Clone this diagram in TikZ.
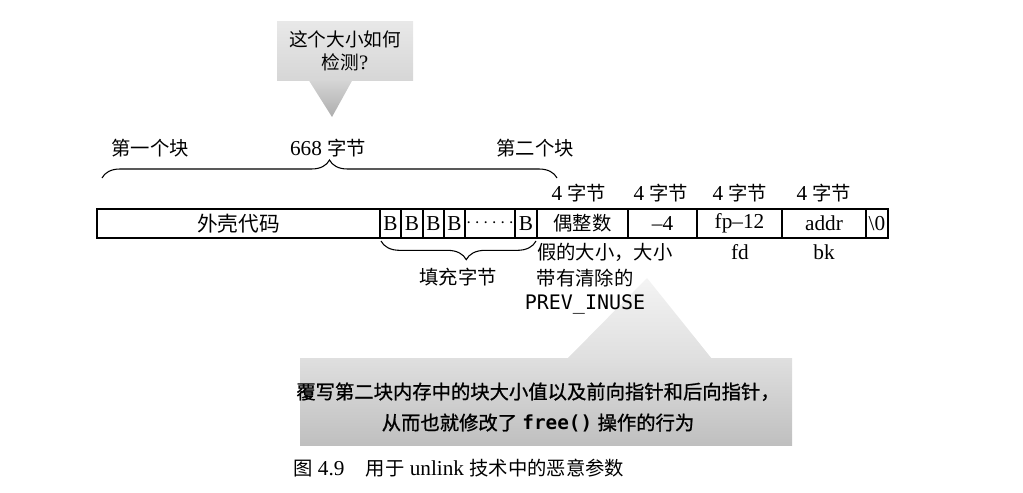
\documentclass[tikz,border=0pt]{standalone}
\usepackage{fontspec}
\setmainfont{Liberation Serif}[Scale=1.1]
\setmonofont{DejaVu Sans Mono}
\newfontfamily\cjk{Noto Sans CJK SC}
\newfontfamily\cjkb{Noto Sans CJK SC}[FakeBold=1]
\usetikzlibrary{decorations.pathreplacing}
\newcommand\fsz{\fontsize{14.5}{17}\selectfont}
\begin{document}
\begin{tikzpicture}[x=0.75pt,y=-0.75pt,
  cell/.style={draw, line width=0.8pt, inner sep=0pt, minimum height=21.75pt, anchor=center, font=\fsz},
  lbl/.style={inner sep=0pt, font=\fsz},
  bracestyle/.style={decorate, line width=0.8pt},
]
\useasboundingbox (0,0) rectangle (1023,492);

% top callout
\shade[top color=gray!32, bottom color=gray!64] (308,79) -- (353,79) -- (332,117) -- cycle;
\shade[top color=gray!18, bottom color=gray!32] (277,22) rectangle (413,80);
\node[lbl, align=center, font=\fontsize{14}{17.25}\selectfont] (q) at (345,51) {{\cjk 这个大小如何}\\{\cjk 检测}?};

% bottom callout
\shade[top color=gray!9, bottom color=gray!25] (567,359) -- (647,278) -- (712,359) -- cycle;
\shade[top color=gray!25, bottom color=gray!50] (300,358) rectangle (792,445);
\node[lbl, align=center, font=\fontsize{14.5}{23.25}\selectfont] (note) at (538,407.5)
  {{\cjkb 覆写第二块内存中的块大小值以及前向指针和后向指针，}\\{\cjkb 从而也就修改了} \texttt{\bfseries free()} {\cjkb 操作的行为}};

% top labels
\node[lbl] (first) at (150,148) {{\cjk 第一个块}};
\node[lbl] (size) at (328,148) {668 {\cjk 字节}};
\node[lbl] (second) at (535,148) {{\cjk 第二个块}};
\coordinate (bl) at (102,178);
\coordinate (br) at (557,178);
\draw[bracestyle, decoration={brace, amplitude=13.5pt}] (bl) -- (br);

% strip
\node[cell, minimum width=212.25pt, font=\fontsize{15.5}{17}\selectfont] (shell) at (238.5,223.5) {{\cjk 外壳代码}};
\node[cell, minimum width=15.75pt] (b1) at (390.5,223.5) {B};
\node[cell, minimum width=16.5pt] (b2) at (412,223.5) {B};
\node[cell, minimum width=15.75pt] (b3) at (433.5,223.5) {B};
\node[cell, minimum width=15.75pt] (b4) at (454.5,223.5) {B};
\node[cell, minimum width=37.5pt] (dots) at (490,223.5) {$\cdots\cdots$};
\node[cell, minimum width=16.5pt] (b5) at (526,223.5) {B};
\node[cell, minimum width=68.25pt] (even) at (582.5,223.5) {{\cjk 偶整数}};
\node[cell, minimum width=51.75pt] (m4) at (662.5,223.5) {--4};
\node[cell, minimum width=63.75pt] (fp) at (739.5,223.5) {fp--12};
\node[cell, minimum width=63pt] (addr) at (824,223.5) {addr};
\node[cell, minimum width=16.5pt] (nul) at (877,223.5) {\textbackslash0};

% byte labels
\node[lbl] (s1) at (579,193) {4 {\cjk 字节}};
\node[lbl] (s2) at (661,193) {4 {\cjk 字节}};
\node[lbl] (s3) at (740,193) {4 {\cjk 字节}};
\node[lbl] (s4) at (824,193) {4 {\cjk 字节}};

% below labels
\node[lbl, anchor=west] (fake) at (537,252) {{\cjk 假的大小，大小}};
\node[lbl] (fake2) at (585,278) {{\cjk 带有清除的}};
\node[lbl, font=\fontsize{15}{17}\selectfont] (prev) at (585,304) {\texttt{PREV\_INUSE}};
\node[lbl] (fd) at (740,252) {fd};
\node[lbl] (bk) at (824,252) {bk};
\node[lbl] (pad) at (458,277) {{\cjk 填充字节}};
\coordinate (pl) at (381,241);
\coordinate (pr) at (536,241);
\draw[bracestyle, decoration={brace, mirror, amplitude=14pt, aspect=0.55}] (pl) -- (pr);

% caption
\node[lbl, anchor=west] (cap) at (293,468) {{\cjk 图} 4.9\quad{\cjk 用于} unlink {\cjk 技术中的恶意参数}};
\end{tikzpicture}
\end{document}
